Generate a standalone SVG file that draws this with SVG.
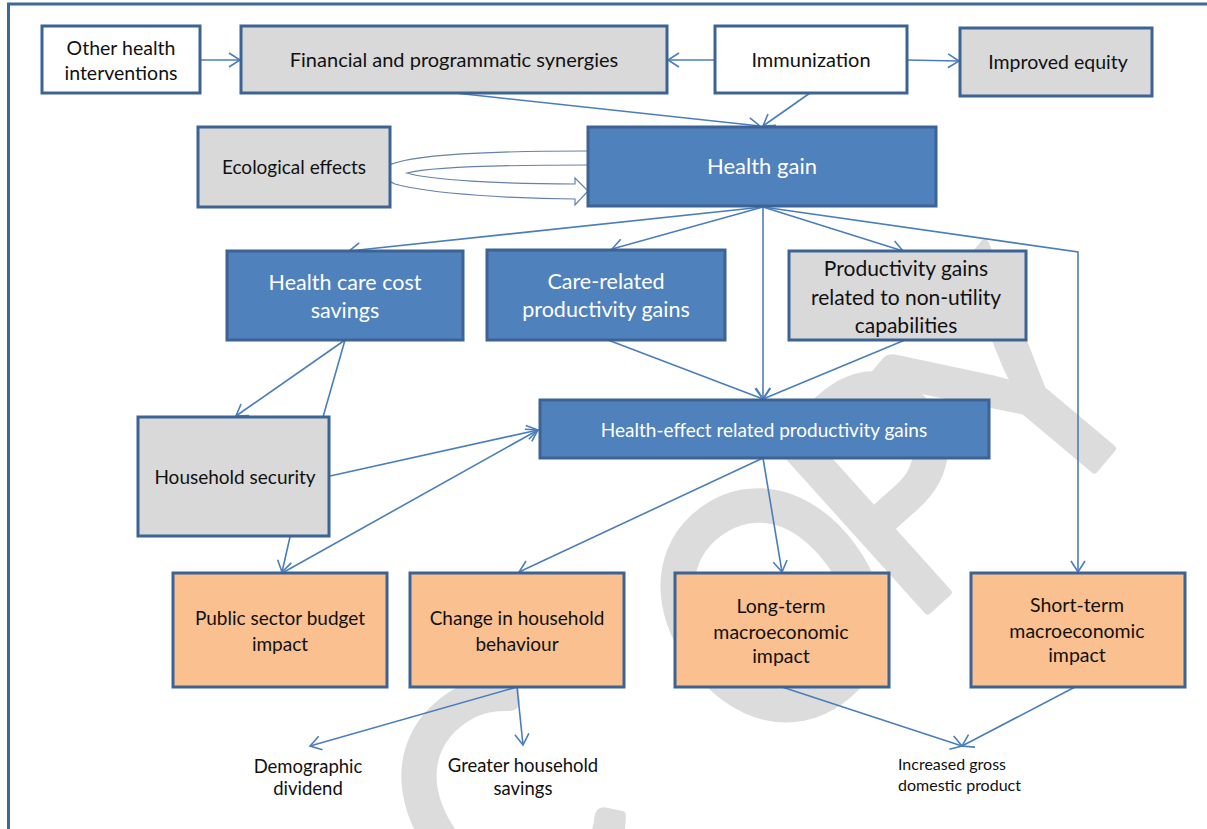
<svg xmlns="http://www.w3.org/2000/svg" width="1207" height="829" viewBox="0 0 1207 829">
<defs>
<style>
.box{stroke:#3d6394;stroke-width:3}
.w{fill:#ffffff}.g{fill:#d9d9d9}.b{fill:#4f81bd}.o{fill:#fac090}
text{font-family:Lato,"Liberation Sans",sans-serif;text-anchor:middle}
.dk{fill:#111111}.lt{fill:#ffffff}
.c{fill:none;stroke:#4a7ebb;stroke-width:1.6}
.wm{font-size:320px;fill:#dcdcdc;stroke:#dcdcdc;stroke-width:8;stroke-linejoin:round}
</style>
<marker id="a" markerUnits="userSpaceOnUse" markerWidth="24" markerHeight="24" viewBox="-14 -12 16 24" refX="0" refY="0" orient="auto">
<path d="M-11,-7 L0,0 L-11,7" fill="none" stroke="#4a7ebb" stroke-width="1.6"/>
</marker>
</defs>
<rect x="0" y="0" width="1207" height="829" fill="#ffffff"/>
<g id="watermark">
<text class="wm" x="0" y="115" transform="translate(500,805) rotate(-38) scale(0.9,1)">C</text>
<text class="wm" x="0" y="115" transform="translate(772,605) rotate(-36) scale(0.88,1)">O</text>
<text class="wm" x="0" y="115" transform="translate(895,485) rotate(-42) scale(0.9,1)">P</text>
<text class="wm" x="0" y="115" transform="translate(1015,385) rotate(-50) scale(0.9,1)">Y</text>
</g>
<g id="frame"><path d="M8.5,829 L8.5,4 L1207,4" fill="none" stroke="#3f6797" stroke-width="3"/></g>
<g id="connectors">
<path class="c" d="M200,60 L240,60" marker-end="url(#a)"/>
<path class="c" d="M715,60 L668,60" marker-end="url(#a)"/>
<path class="c" d="M906,60 L959,61" marker-end="url(#a)"/>
<path class="c" d="M455,93 L760,126" marker-end="url(#a)"/>
<path class="c" d="M810,93 L763,126" marker-end="url(#a)"/>
<path d="M588,151 C470,151 402,156 386,167 C380,173 384,179 395,184 C430,194 520,199 575,199 L575,205 L588,191 L575,178 L575,184 C500,184 430,180 407,173 C430,167 510,165 588,165" fill="#ffffff" stroke="#6682a8" stroke-width="1.2"/>
<path class="c" d="M763,207 L349,251" marker-end="url(#a)"/>
<path class="c" d="M763,207 L612,249" marker-end="url(#a)"/>
<path class="c" d="M763,207 L763,399" marker-end="url(#a)"/>
<path class="c" d="M763,207 L903,251" marker-end="url(#a)"/>
<path class="c" d="M763,207 L1078,252 L1078,572" marker-end="url(#a)"/>
<path class="c" d="M345,340 L236,416" marker-end="url(#a)"/>
<path class="c" d="M345,340 L323,417"/>
<path class="c" d="M608,340 L763,399" marker-end="url(#a)"/>
<path class="c" d="M905,340 L763,399" marker-end="url(#a)"/>
<path class="c" d="M330,476 L538,430" marker-end="url(#a)"/>
<path class="c" d="M290,537 L282,572" marker-end="url(#a)"/>
<path class="c" d="M284,572 L538,430" marker-end="url(#a)"/>
<path class="c" d="M763,458 L519,572" marker-end="url(#a)"/>
<path class="c" d="M763,458 L782,572" marker-end="url(#a)"/>
<path class="c" d="M517,687 L310,746" marker-end="url(#a)"/>
<path class="c" d="M517,687 L523,745" marker-end="url(#a)"/>
<path class="c" d="M782,687 L962,746" marker-end="url(#a)"/>
<path class="c" d="M1075,687 L962,746" marker-end="url(#a)"/>
</g>
<g id="n-other"><rect class="box w" x="42" y="26" width="158" height="67"/><text class="dk" font-size="19.5"><tspan x="121" y="55">Other health</tspan><tspan x="121" y="80">interventions</tspan></text></g>
<g id="n-financial"><rect class="box g" x="241" y="26" width="426" height="67"/><text class="dk" x="454" y="67" font-size="20">Financial and programmatic synergies</text></g>
<g id="n-immunization"><rect class="box w" x="715" y="26" width="192" height="67"/><text class="dk" x="811" y="67" font-size="20">Immunization</text></g>
<g id="n-equity"><rect class="box g" x="960" y="28" width="192" height="68"/><text class="dk" x="1058" y="69" font-size="19.5">Improved equity</text></g>
<g id="n-ecological"><rect class="box g" x="198" y="127" width="192" height="80"/><text class="dk" x="294" y="174" font-size="19">Ecological effects</text></g>
<g id="n-healthgain"><rect class="box b" x="588" y="127" width="348" height="79"/><text class="lt" x="762" y="174" font-size="22">Health gain</text></g>
<g id="n-costsavings"><rect class="box b" x="227" y="251" width="236" height="89"/><text class="lt" font-size="21.5"><tspan x="345" y="290">Health care cost</tspan><tspan x="345" y="318">savings</tspan></text></g>
<g id="n-carerelated"><rect class="box b" x="487" y="250" width="238" height="90"/><text class="lt" font-size="21.5"><tspan x="606" y="289">Care-related</tspan><tspan x="606" y="317">productivity gains</tspan></text></g>
<g id="n-nonutility"><rect class="box g" x="789" y="251" width="237" height="89"/><text class="dk" font-size="21"><tspan x="906" y="276">Productivity gains</tspan><tspan x="906" y="305">related to non-utility</tspan><tspan x="906" y="333">capabilities</tspan></text></g>
<g id="n-healtheffect"><rect class="box b" x="540" y="400" width="449" height="58"/><text class="lt" x="764" y="437" font-size="19">Health-effect related productivity gains</text></g>
<g id="n-household"><rect class="box g" x="138" y="417" width="191" height="119"/><text class="dk" x="235" y="484" font-size="19">Household security</text></g>
<g id="n-public"><rect class="box o" x="173" y="573" width="214" height="114"/><text class="dk" font-size="19"><tspan x="280" y="625">Public sector budget</tspan><tspan x="280" y="651">impact</tspan></text></g>
<g id="n-change"><rect class="box o" x="410" y="573" width="214" height="114"/><text class="dk" font-size="19"><tspan x="517" y="625">Change in household</tspan><tspan x="517" y="651">behaviour</tspan></text></g>
<g id="n-longterm"><rect class="box o" x="675" y="573" width="214" height="114"/><text class="dk" font-size="19.5"><tspan x="781" y="613">Long-term</tspan><tspan x="781" y="639">macroeconomic</tspan><tspan x="781" y="663">impact</tspan></text></g>
<g id="n-shortterm"><rect class="box o" x="971" y="573" width="214" height="114"/><text class="dk" font-size="19.5"><tspan x="1077" y="612">Short-term</tspan><tspan x="1077" y="638">macroeconomic</tspan><tspan x="1077" y="662">impact</tspan></text></g>
<g id="n-demographic"><text class="dk" font-size="18.5"><tspan x="308" y="773">Demographic</tspan><tspan x="308" y="795">dividend</tspan></text></g>
<g id="n-savings"><text class="dk" font-size="18.5"><tspan x="523" y="772">Greater household</tspan><tspan x="523" y="795">savings</tspan></text></g>
<g id="n-gdp"><text class="dk" font-size="16" style="text-anchor:start"><tspan x="898" y="770">Increased gross</tspan><tspan x="898" y="791">domestic product</tspan></text></g>
</svg>
